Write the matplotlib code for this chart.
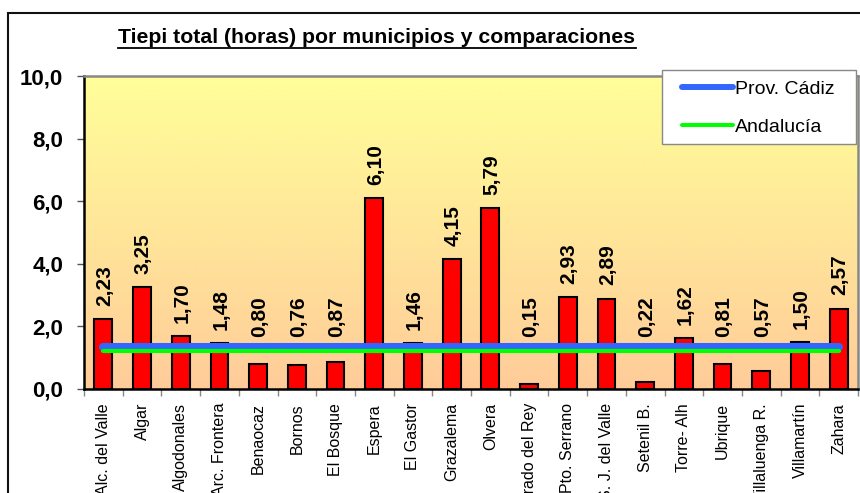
import numpy as np
import matplotlib
matplotlib.use("Agg")
import matplotlib.pyplot as plt
from matplotlib.lines import Line2D
from matplotlib.patches import Rectangle

plt.rcParams["font.family"] = ["Liberation Sans", "DejaVu Sans"]

# TIEPI total (horas) por municipio
municipios = ["Alc. del Valle", "Algar", "Algodonales", "Arc. Frontera", "Benaocaz",
              "Bornos", "El Bosque", "Espera", "El Gastor", "Grazalema", "Olvera",
              "Prado del Rey", "Pto. Serrano", "S. J. del Valle", "Setenil B.",
              "Torre- Alh", "Ubrique", "Villaluenga R.", "Villamartín", "Zahara"]
tiepi = [2.23, 3.25, 1.70, 1.48, 0.80, 0.76, 0.87, 6.10, 1.46, 4.15, 5.79,
         0.15, 2.93, 2.89, 0.22, 1.62, 0.81, 0.57, 1.50, 2.57]

# valores de referencia
prov_cadiz = 1.33
andalucia = 1.23

W, H = 860, 493
fig = plt.figure(figsize=(W / 100, H / 100), dpi=100)
fig.patch.set_facecolor("white")

# marco exterior del grafico
fig.patches.append(Rectangle((8 / W, -0.2), 1.2, 1 - 13 / H + 0.2,
                             transform=fig.transFigure, fill=False,
                             edgecolor="#111111", linewidth=1.5))

ax = fig.add_axes([84 / W, 1 - 389 / H, (858 - 84) / W, (389 - 76) / H])
x = np.arange(len(municipios))

# fondo degradado amarillo -> melocoton
top = np.array([255, 255, 153]) / 255
bottom = np.array([255, 204, 153]) / 255
t = np.linspace(0, 1, 256)[:, None]
grad = (top * (1 - t) + bottom * t)[:, None, :]
ax.imshow(grad, extent=(-0.5, len(municipios) - 0.5, 0, 10), aspect="auto",
          zorder=0, interpolation="bilinear")

ax.bar(x, tiepi, width=0.46, color="#FF0000", edgecolor="black",
       linewidth=1.5, zorder=2)

# etiquetas de valor: las barras bajas llevan la etiqueta por encima de las lineas
for i, v in enumerate(tiepi):
    base = max(v + 0.42, 1.65)
    ax.annotate(("%.2f" % v).replace(".", ","), xy=(i, base), xytext=(1, 0),
                textcoords="offset points", rotation=90, ha="center",
                va="bottom", fontsize=15, fontweight="bold", zorder=4)

ax.plot(x[[0, -1]], [prov_cadiz, prov_cadiz], color="#3366FF", linewidth=5.8,
        solid_capstyle="round", zorder=3)
ax.plot(x[[0, -1]], [andalucia, andalucia], color="#00FF00", linewidth=3.0,
        solid_capstyle="round", zorder=3)

ax.set_xlim(-0.5, len(municipios) - 0.5)
ax.set_ylim(0, 10)
ax.set_yticks(np.arange(0, 10.1, 2))
ax.set_yticklabels([("%.1f" % v).replace(".", ",") for v in np.arange(0, 10.1, 2)],
                   fontsize=16, fontweight="bold")
ax.tick_params(axis="y", length=5, width=1, color="#555555", pad=10)

ax.set_xticks(x)
ax.set_xticklabels(municipios, rotation=90, fontsize=11.5, va="top", ha="center")
ax.set_xticks(np.arange(-0.5, len(municipios)), minor=True)
ax.tick_params(axis="x", which="major", length=0, pad=10)
ax.tick_params(axis="x", which="minor", length=5, width=1, color="#888888")

for s in ("left", "bottom"):
    ax.spines[s].set_color("black")
    ax.spines[s].set_linewidth(1.8)
for s in ("top", "right"):
    ax.spines[s].set_color("#888888")
    ax.spines[s].set_linewidth(1.8)

# caja de la leyenda
fig.patches.append(Rectangle((662 / W, 1 - 144 / H), (856 - 662) / W, 74 / H,
                             transform=fig.transFigure, facecolor="white",
                             edgecolor="#888888", linewidth=1.0, zorder=5))

handles = [Line2D([], [], color="#3366FF", linewidth=4.3, solid_capstyle="round"),
           Line2D([], [], color="#00FF00", linewidth=2.9, solid_capstyle="round")]
leg = fig.legend(handles, ["Prov. Cádiz", "Andalucía"], loc="upper left",
                 bbox_to_anchor=(682 / W, 1 - 80 / H), bbox_transform=fig.transFigure,
                 fontsize=14, frameon=False, handlelength=2.6, handletextpad=0.12,
                 labelspacing=1.05, borderpad=0, borderaxespad=0)
leg.set_zorder(6)

title = fig.text(377 / W, 1 - 43 / H,
                 "Tiepi total (horas) por municipios y comparaciones",
                 ha="center", va="baseline", fontsize=15.3, fontweight="bold")

# subrayado del titulo
fig.canvas.draw()
bb = title.get_window_extent()
yline = (bb.y0 - 1) / H
fig.add_artist(Line2D([bb.x0 / W, bb.x1 / W], [yline, yline],
                      transform=fig.transFigure, color="black", linewidth=1.3))

fig.savefig("out.png", dpi=100)
